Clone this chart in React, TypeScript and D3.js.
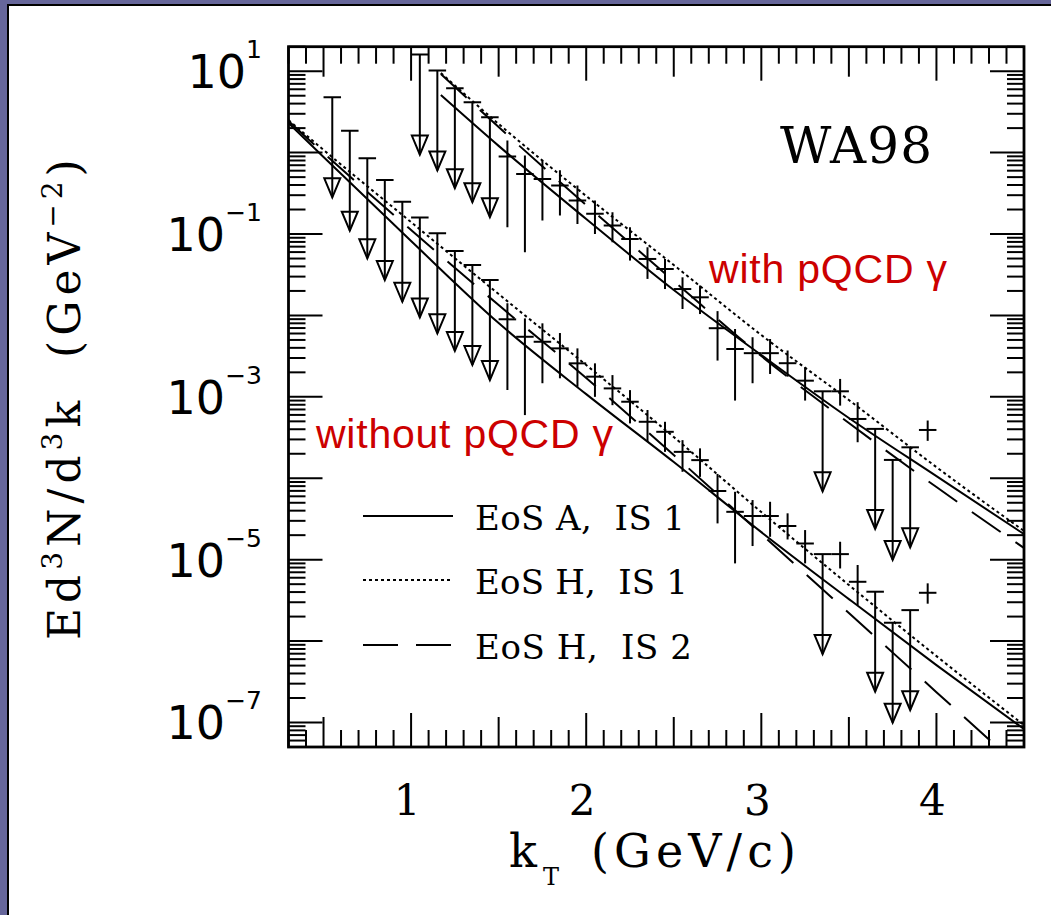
import { useEffect, useRef } from 'react';
import * as d3 from 'd3';

// WA98 direct photons, read off the lower ("without pQCD") copy.
// bins are 0.1 GeV/c wide
const binHalf = 0.05;

// upper limits
const limitKt = [0.55, 0.65, 0.75, 0.85, 0.95, 1.05, 1.15, 1.25, 1.35, 1.45, 3.35, 3.65, 3.75, 3.85];
const limitVal = [4.78, 1.86, 0.851, 0.46, 0.249, 0.16, 0.102, 0.0618, 0.0416, 0.0272, 1.17e-5, 4.04e-6, 1.68e-6, 2.4e-6];

// measured points with errors
const pointKt = [1.55, 1.65, 1.75, 1.85, 1.95, 2.05, 2.15, 2.25, 2.35, 2.45, 2.55, 2.65, 2.75, 2.85, 2.95, 3.05, 3.15, 3.25, 3.45, 3.55, 3.95];
const pointVal = [8.95e-3, 5.47e-3, 4.75e-3, 3.94e-3, 2.58e-3, 1.77e-3, 1.27e-3, 8.71e-4, 4.94e-4, 3.72e-4, 2.11e-4, 1.67e-4, 6.97e-5, 3.87e-5, 3.44e-5, 3.44e-5, 2.59e-5, 1.58e-5, 1.17e-5, 5.35e-6, 3.92e-6];
const pointHi = [1.41e-2, 9.2e-3, 8.0e-3, 6.08e-3, 3.94e-3, 2.58e-3, 1.85e-3, 1.21e-3, 6.89e-4, 4.94e-4, 2.94e-4, 2.33e-4, 1.13e-4, 6.82e-5, 5.4e-5, 5.14e-5, 3.71e-5, 2.31e-5, 1.66e-5, 8.6e-6, 5.12e-6];
const pointLo = [1.21e-3, 5.97e-4, 1.47e-3, 1.69e-3, 1.33e-3, 1.0e-3, 7.9e-4, 4.72e-4, 2.81e-4, 2.11e-4, 1.2e-4, 1.04e-4, 2.79e-5, 9.0e-6, 1.47e-5, 1.91e-5, 1.77e-5, 9.0e-6, 7.8e-6, 2.77e-6, 2.88e-6];

// the "with pQCD" copy of the data sits a factor 100 higher
const withShift = 100;

// hydro curves, no pQCD
const curveKt = [0.3, 0.5, 1.0, 1.5, 2.0, 2.5, 3.0, 3.5, 4.0, 4.5];
const eosA1 = [2.31, 0.883, 0.082, 8.06e-3, 1.08e-3, 1.58e-4, 2.18e-5, 3.28e-6, 5.07e-7, 8.3e-8];
const eosH1 = [2.51, 1.08, 0.14, 0.0183, 2.46e-3, 3.21e-4, 3.84e-5, 4.88e-6, 6.54e-7, 9.29e-8];
const eosH2 = [2.44, 0.989, 0.112, 0.0134, 1.7e-3, 1.93e-4, 2.06e-5, 2.21e-6, 2.36e-7, 2.53e-8];

// hydro + pQCD curves (x100)
const pqcdKt = [1.17, 1.5, 2.0, 2.5, 3.0, 3.5, 4.0, 4.5];
const eosA1pqcd = [5.1, 1.21, 0.153, 0.0205, 3.26e-3, 5.49e-4, 1.06e-4, 2.06e-5];
const eosH1pqcd = [9.5, 2.25, 0.293, 0.0416, 5.74e-3, 9.13e-4, 1.37e-4, 2.25e-5];
const eosH2pqcd = [9.24, 2.06, 0.227, 0.0265, 3.17e-3, 4.77e-4, 7.8e-5, 1.39e-5];

const legendLabels = ['EoS A,\u00a0\u00a0IS 1', 'EoS H,\u00a0\u00a0IS 1', 'EoS H,\u00a0\u00a0IS 2'];
const legendWidths = [210, 213, 217];
const yLabelExps = [1, -1, -3, -5, -7];
const xLabels = [1, 2, 3, 4];

const serif = '"DejaVu Serif", serif';
const sans = '"DejaVu Sans", sans-serif';
const red = '#cc0000';

export default function App() {
    const ref = useRef<SVGSVGElement>(null);

    useEffect(() => {
        const svg = d3.select(ref.current);
        svg.selectAll('*').remove();

        const left = 288.5, right = 1024, top = 46.7, bottom = 747;
        const x = d3.scaleLinear().domain([0.3, 4.5]).range([left, right]);
        const y = d3.scaleLog().domain([5e-8, 20]).range([bottom, top]);

        // slide frame
        svg.append('rect').attr('width', 1051).attr('height', 915).attr('fill', '#66669a');
        svg.append('rect')
            .attr('x', 8).attr('y', 5).attr('width', 1060).attr('height', 920)
            .attr('fill', '#fff').attr('stroke', '#000').attr('stroke-width', 2);

        svg.append('clipPath').attr('id', 'plot-clip')
            .append('rect')
            .attr('x', left).attr('y', top).attr('width', right - left).attr('height', bottom - top);

        // ticks
        const ticks = svg.append('g').attr('stroke', '#000').attr('stroke-width', 2);
        const near = (a: number) => Math.abs(a - Math.round(a)) < 1e-6;
        x.ticks(42).forEach(v => {
            const len = near(v) ? 34 : near(v * 2) ? 30 : 17;
            ticks.append('line').attr('x1', x(v)).attr('x2', x(v)).attr('y1', bottom).attr('y2', bottom - len);
            ticks.append('line').attr('x1', x(v)).attr('x2', x(v)).attr('y1', top).attr('y2', top + len);
        });
        y.ticks().forEach(v => {
            const len = near(Math.log10(v)) ? 34 : 17;
            ticks.append('line').attr('x1', left).attr('x2', left + len).attr('y1', y(v)).attr('y2', y(v));
            ticks.append('line').attr('x1', right).attr('x2', right - len).attr('y1', y(v)).attr('y2', y(v));
        });

        svg.append('rect')
            .attr('x', left).attr('y', top).attr('width', right - left).attr('height', bottom - top)
            .attr('fill', 'none').attr('stroke', '#000').attr('stroke-width', 2.8);

        // tick labels
        yLabelExps.forEach(e => {
            const t = svg.append('text')
                .attr('x', 262).attr('y', y(Math.pow(10, e)) + 17)
                .attr('text-anchor', 'end')
                .attr('font-family', sans).attr('font-size', 46);
            t.append('tspan').text('10');
            t.append('tspan').attr('dy', -30).attr('font-size', 25).text(e < 0 ? '\u2212' + (-e) : String(e));
        });
        xLabels.forEach(v => {
            svg.append('text')
                .attr('x', x(v) - 4).attr('y', 815)
                .attr('text-anchor', 'middle')
                .attr('font-family', serif).attr('font-size', 42)
                .text(v);
        });

        // axis titles
        svg.append('text').attr('x', 509).attr('y', 866.7)
            .attr('font-family', serif).attr('font-size', 46).text('k');
        svg.append('text').attr('x', 543).attr('y', 885)
            .attr('font-family', serif).attr('font-size', 24).text('T');
        svg.append('text').attr('x', 591).attr('y', 866.7)
            .attr('font-family', serif).attr('font-size', 46)
            .attr('textLength', 205).attr('lengthAdjust', 'spacing')
            .text('(GeV/c)');

        const yt = svg.append('text')
            .attr('transform', 'translate(80,640) rotate(-90)')
            .attr('font-family', serif).attr('font-size', 44)
            .attr('letter-spacing', 5);
        yt.append('tspan').text('Ed');
        yt.append('tspan').attr('dy', -18).attr('font-size', 28).text('3');
        yt.append('tspan').attr('dy', 18).text('N/d');
        yt.append('tspan').attr('dy', -18).attr('font-size', 28).text('3');
        yt.append('tspan').attr('dy', 18).text('k\u00a0\u00a0(GeV');
        yt.append('tspan').attr('dy', -18).attr('font-size', 28).text('\u22122');
        yt.append('tspan').attr('dy', 18).text(')');

        // hydro curves
        const plot = svg.append('g').attr('clip-path', 'url(#plot-clip)');
        const line = d3.line<[number, number]>()
            .x(d => x(d[0]))
            .y(d => y(d[1]))
            .curve(d3.curveMonotoneX);
        const styles = [null, '3,3', '35,18'];
        const curves = [
            [curveKt, eosA1, 0], [curveKt, eosH1, 1], [curveKt, eosH2, 2],
            [pqcdKt, eosA1pqcd, 0], [pqcdKt, eosH1pqcd, 1], [pqcdKt, eosH2pqcd, 2],
        ] as [number[], number[], number][];
        curves.forEach(([ks, vs, s]) => {
            plot.append('path')
                .datum(ks.map((k, i) => [k, vs[i]] as [number, number]))
                .attr('fill', 'none').attr('stroke', '#000').attr('stroke-width', 2)
                .attr('stroke-dasharray', styles[s])
                .attr('d', line);
        });

        // data, both copies
        const marks = plot.append('g').attr('stroke', '#000').attr('stroke-width', 2).attr('fill', 'none');
        [1, withShift].forEach(s => {
            pointKt.forEach((k, i) => {
                if (pointVal[i] * s > 20) return;
                marks.append('line').attr('x1', x(k)).attr('x2', x(k))
                    .attr('y1', y(pointHi[i] * s)).attr('y2', y(pointLo[i] * s));
                marks.append('line').attr('x1', x(k - binHalf)).attr('x2', x(k + binHalf))
                    .attr('y1', y(pointVal[i] * s)).attr('y2', y(pointVal[i] * s));
            });
            limitKt.forEach((k, i) => {
                if (limitVal[i] * s > 20) return;
                const cy = y(limitVal[i] * s);
                const tip = cy + 100;
                marks.append('line').attr('x1', x(k - binHalf)).attr('x2', x(k + binHalf))
                    .attr('y1', cy).attr('y2', cy);
                marks.append('line').attr('x1', x(k)).attr('x2', x(k)).attr('y1', cy).attr('y2', tip);
                marks.append('path')
                    .attr('d', `M${x(k) - 8},${tip - 19}L${x(k) + 8},${tip - 19}L${x(k)},${tip}Z`);
            });
        });

        // legend
        legendLabels.forEach((label, i) => {
            const ly = [516, 580, 645][i];
            svg.append('line')
                .attr('x1', 363).attr('x2', 453).attr('y1', ly).attr('y2', ly)
                .attr('stroke', '#000').attr('stroke-width', 2)
                .attr('stroke-dasharray', styles[i]);
            svg.append('text')
                .attr('x', 475).attr('y', ly + 14)
                .attr('font-family', serif).attr('font-size', 34)
                .attr('textLength', legendWidths[i]).attr('lengthAdjust', 'spacing')
                .text(label);
        });

        svg.append('text')
            .attr('x', 780).attr('y', 163)
            .attr('font-family', serif).attr('font-size', 50)
            .attr('textLength', 152).attr('lengthAdjust', 'spacing')
            .text('WA98');

        svg.append('text')
            .attr('x', 709).attr('y', 283)
            .attr('font-family', '"Liberation Sans", Arial, sans-serif').attr('font-size', 41)
            .attr('fill', red)
            .attr('textLength', 238).attr('lengthAdjust', 'spacing')
            .text('with pQCD \u03b3');
        svg.append('text')
            .attr('x', 316).attr('y', 448)
            .attr('font-family', '"Liberation Sans", Arial, sans-serif').attr('font-size', 41)
            .attr('fill', red)
            .attr('textLength', 297).attr('lengthAdjust', 'spacing')
            .text('without pQCD \u03b3');
    }, []);

    return (
        <>
            <style>{'body { margin: 0; }'}</style>
            <svg ref={ref} width={1051} height={915} style={{ display: 'block' }}></svg>
        </>
    );
}
